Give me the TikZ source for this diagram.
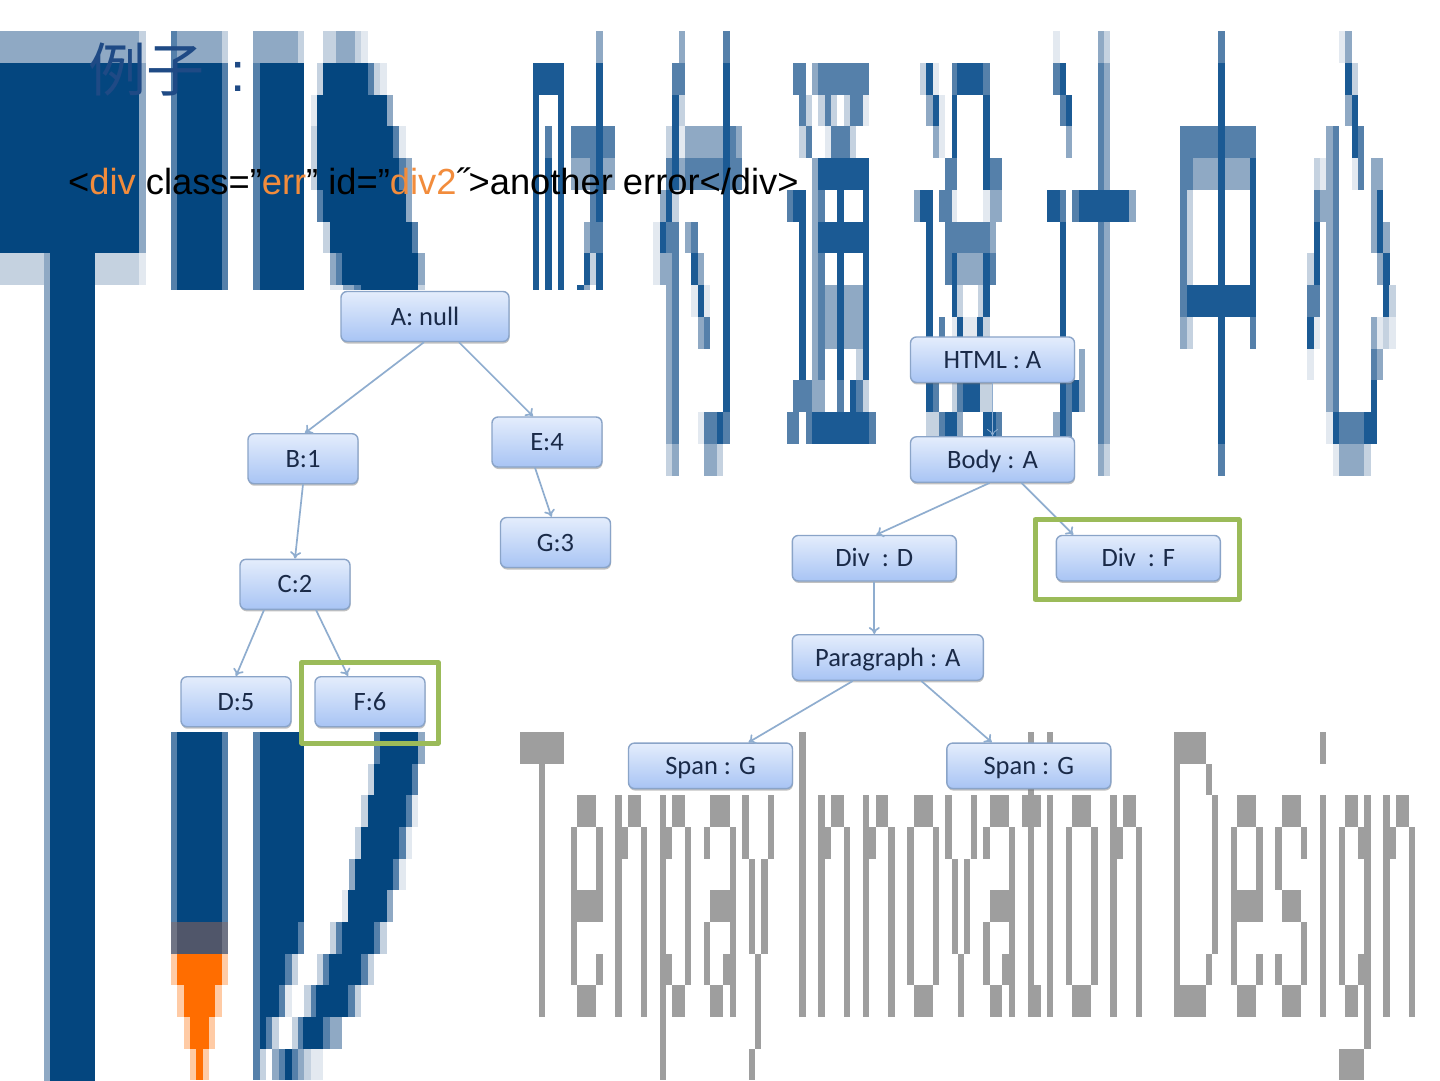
\documentclass[tikz,border=0pt]{standalone}
\usepackage{fontspec}
\setmainfont{Liberation Sans}
\newfontfamily\lblfont{Carlito}
\newfontfamily\cjkfont{Noto Sans CJK SC}
\usetikzlibrary{arrows.meta,shadows}
\definecolor{N}{HTML}{04467F}
\definecolor{D}{HTML}{1B5A94}
\definecolor{M}{HTML}{5580AA}
\definecolor{L}{HTML}{8FA9C4}
\definecolor{P}{HTML}{C5D2E0}
\definecolor{V}{HTML}{E3E9F0}
\definecolor{G}{HTML}{9E9E9E}
\definecolor{K}{HTML}{50566A}
\definecolor{J}{HTML}{6F7485}
\definecolor{O}{HTML}{FF6D00}
\definecolor{Q}{HTML}{FFCBA5}
\definecolor{orangetxt}{HTML}{F28C3C}
\definecolor{boxgreen}{HTML}{9BBB59}
\definecolor{boxedge}{HTML}{8AA4C8}
\definecolor{boxtop}{HTML}{E4EDFC}
\definecolor{boxbot}{HTML}{A8C4F4}
\definecolor{linkblue}{HTML}{8FADCF}
\definecolor{lbltxt}{HTML}{1A2A48}
\definecolor{titletxt}{HTML}{1F4A85}
\def\ox{0}
\def\yb{31}
\def\ys{31.75}
\newcommand\Rw[3]{\foreach \cc/\xa/\xb in {#3}{\fill[fill=\cc] ({\ox+\xa/3},{\yb+\ys*#1}) rectangle ({\ox+\xb/3+0.15},{\yb+\ys*#2+0.15});}}
\tikzset{
  treebox/.style={draw=boxedge,line width=1.4pt,rounded corners=6pt,top color=boxtop,bottom color=boxbot,
    drop shadow={shadow xshift=0.5pt,shadow yshift=-2pt,opacity=.4,fill=black!60},
    font=\lblfont\fontsize{26.5}{26.5}\selectfont,text=lbltxt,inner sep=0pt,anchor=center,text height=17pt,text depth=0pt},
  link/.style={draw=linkblue,line width=1.7pt,-{To[length=7pt,width=11pt]}},
  greenbox/.style={draw=boxgreen,line width=5pt,line join=round,fill=none,inner sep=0pt},
}
\begin{document}
\begin{tikzpicture}[x=1pt,y=-1pt]
\useasboundingbox (0,0) rectangle (1440,1080);
\fill[white] (0,0) rectangle (1440,1080);
% ---------- logo, top part
\def\ox{0}
\Rw{0}{1}{L/0/417,P/417/438,L/513/666,M/513/530,P/666/684,L/780/893,L/759/780,P/893/912,P/968/990,L/1007/1065,P/990/1007,P/1065/1083,V/1083/1104}
\Rw{1}{7}{N/0/417,L/417/438,M/513/530,N/530/666,M/666/684,M/759/780,N/780/912}
\Rw{7}{8}{P/0/132,L/132/150,P/285/417,V/417/438}
\Rw{7}{35}{L/132/150,N/150/285}
\Rw{7}{8.15}{M/513/530,N/530/666,M/666/684,M/759/780,N/780/912}
\Rw{1}{2}{P/950/968,N/968/1104,M/1104/1122,P/1122/1140,V/1140/1160}
\Rw{2}{3}{V/933/950,N/950/1160,L/1160/1178}
\Rw{3}{4}{P/933/950,N/950/1178,M/1178/1197,V/1197/1218}
\Rw{4}{5}{P/933/950,N/950/1197,M/1197/1218,L/1218/1235}
\Rw{5}{6}{M/950/968,N/968/1218,L/1218/1235}
\Rw{6}{7}{P/968/990,N/990/1235,M/1235/1254}
\Rw{7}{8}{L/990/1007,M/1007/1025,N/1025/1254,L/1254/1274}
\Rw{8}{8.15}{V/990/1030,L/1030/1063,M/1063/1083,N/1083/1254,P/1254/1274}
% ---------- upper letters, left half
\def\ox{520}
% glyph 1
\Rw{0}{1}{L/228/248}
\Rw{1}{2}{D/39/132,D/228/248}
\Rw{2}{8.15}{D/39/57,D/114/132,D/228/248}
\Rw{3}{4}{M/76/95,M/153/228,M/248/285}
\Rw{4}{8.15}{D/76/95}
\Rw{4}{5}{L/153/210,M/210/228,L/248/285}
\Rw{5}{6}{M/210/228}
\Rw{6}{7}{L/192/210,M/210/248}
\Rw{7}{8}{D/192/210,P/210/228}
\Rw{8}{8.15}{D/170/192,L/192/210}
% glyph 2
\Rw{0}{1}{L/477/494,M/610/630}
\Rw{1}{2}{M/457/494}
\Rw{1}{12}{D/610/630}
\Rw{2}{3}{D/457/477,P/477/494}
\Rw{3}{4}{P/438/457,D/457/477,V/477/494,L/494/610,M/630/647,L/647/665}
\Rw{4}{5}{M/438/457,D/457/477,L/477/494,M/494/610,M/630/665}
\Rw{5}{6}{L/420/438,D/438/457,P/457/477}
\Rw{6}{7}{V/400/420,D/420/438,M/438/477,L/494/514,M/514/533}
\Rw{7}{8}{V/400/420,L/420/457,M/457/477,D/514/533,L/533/552}
\Rw{8}{9}{L/438/457,M/457/477,V/514/533,D/533/552,V/552/570}
\Rw{9}{10}{L/438/457,M/457/477,L/533/552,M/552/570}
\Rw{10}{12}{L/438/457,M/457/477}
\Rw{12}{13}{L/438/457,M/457/477,V/533/552,M/552/590,D/590/610,M/610/630}
\Rw{13}{14}{P/438/457,L/457/477,L/552/590,P/590/608}
% glyph 3
\Rw{1}{2}{M/819/857,L/876/893,M/893/1047}
\Rw{2}{3}{M/838/857,P/857/876,P/893/915,M/915/933,P/933/952,P/972/990,M/990/1030,V/1030/1047}
\Rw{3}{4}{P/838/857,M/857/876,V/915/933,M/933/990,P/990/1007}
\Rw{4}{5}{L/876/893,D/893/1047}
\Rw{5}{6}{M/800/819,D/819/857,L/876/893,M/893/915,D/950/972,D/1030/1047}
\Rw{6}{7}{D/838/857,L/876/893,D/893/1047}
\Rw{7}{8}{D/838/857,L/876/893,M/893/915,D/950/972,D/1030/1047}
\Rw{8}{10}{D/838/857,L/876/893,M/893/915,L/915/950,D/950/972,L/972/1030,D/1030/1047}
\Rw{10}{11}{D/838/857,L/876/893,M/893/915,D/950/972,P/1007/1030,D/1030/1047}
\Rw{11}{12}{M/819/876,L/876/915,M/950/972,D/990/1007,M/1007/1030,P/1030/1047}
\Rw{12}{13}{M/800/838,M/857/876,D/876/1047,M/1047/1067}
% glyph 4
\Rw{1}{2}{P/1200/1218,D/1218/1238,V/1238/1257,M/1295/1312,D/1312/1388,M/1388/1410}
\Rw{2}{3}{L/1218/1238,D/1238/1257,V/1257/1275,D/1295/1312,D/1388/1410}
\Rw{3}{4}{L/1238/1257,V/1257/1275,D/1295/1312,D/1388/1410}
\Rw{4}{5}{M/1275/1312,D/1388/1410,M/1410/1446}
\Rw{5}{6}{L/1182/1200,D/1200/1238,M/1257/1295,V/1295/1312,V/1388/1410,L/1410/1446}
\Rw{6}{7}{D/1218/1238,M/1275/1410,L/1410/1428}
\Rw{7}{8}{D/1218/1238,M/1275/1295,D/1295/1312,L/1312/1388,D/1388/1410,M/1410/1428}
\Rw{8}{9}{D/1218/1238,D/1295/1312,P/1312/1330,P/1375/1388,D/1388/1410}
\Rw{9}{11}{D/1218/1238,M/1257/1275,V/1295/1312,D/1312/1330,V/1330/1370,D/1370/1388,P/1388/1410}
\Rw{11}{12}{D/1218/1238,M/1238/1257,P/1295/1312,M/1312/1330,D/1330/1380,P/1380/1418}
\Rw{12}{13}{P/1218/1257,M/1257/1275,D/1275/1312,L/1312/1330,D/1388/1428,M/1428/1446}
% ---------- upper letters, right half
\def\ox{980}
% glyph 5
\Rw{0}{1}{V/220/240,L/354/372,P/372/390}
\Rw{1}{13}{M/354/372,L/372/390}
\Rw{1}{2}{M/220/240,D/240/258}
\Rw{2}{3}{M/240/258,D/258/276}
\Rw{3}{4}{L/258/276}
\Rw{5}{6}{D/201/240,M/240/258,M/276/297,D/297/447,L/447/467}
\Rw{6}{11}{D/240/258}
\Rw{10}{11}{L/297/315}
\Rw{11}{12}{D/240/258,M/258/276,D/276/297,L/297/315}
\Rw{12}{13}{L/220/240,D/240/258,M/258/276}
\Rw{13}{14}{L/354/372,P/372/390}
% glyph 6
\Rw{3}{4}{M/600/714,M/735/827}
\Rw{4}{5}{M/600/638,L/638/714,L/735/810,D/810/827}
\Rw{5}{8}{M/600/620,P/620/638,D/810/827}
\Rw{8}{9}{M/600/620,D/620/827}
\Rw{9}{10}{L/600/620,P/620/638,M/810/827}
\Rw{0}{1}{M/714/735}
\Rw{1}{13}{D/714/735}
\Rw{13}{14}{M/714/735}
% glyph 7
\Rw{0}{1}{V/1078/1095,L/1095/1115}
\Rw{1}{2}{D/1095/1115,P/1115/1133}
\Rw{2}{3}{L/1095/1115,D/1115/1133}
\Rw{3}{12}{L/1038/1058,M/1058/1076}
\Rw{3}{4}{D/1115/1133,M/1133/1152}
\Rw{4}{5}{P/1002/1020,V/1020/1038,V/1115/1133,M/1133/1152,L/1172/1208}
\Rw{5}{6}{M/1002/1020,L/1020/1038,L/1172/1190,D/1190/1208}
\Rw{6}{7}{D/1002/1020,L/1172/1190,D/1190/1208,L/1208/1228}
\Rw{7}{8}{P/982/1002,D/1002/1020,L/1190/1208,D/1208/1228}
\Rw{8}{9}{M/982/1020,D/1208/1228,P/1228/1247}
\Rw{9}{10}{D/982/1002,V/1002/1020,L/1172/1190,V/1190/1208,P/1208/1228,V/1228/1247}
\Rw{10}{11}{V/982/1002,M/1172/1190,L/1190/1208}
\Rw{11}{12}{D/1172/1190}
\Rw{12}{13}{V/1038/1058,D/1058/1076,M/1076/1152,D/1152/1190}
\Rw{13}{14}{V/1058/1076,L/1076/1152,P/1152/1172}
% ---------- logo, bottom part
\def\yb{35.7}
\def\ys{31.65}
\def\ox{0}
\Rw{22}{28}{M/513/530,N/530/666,M/666/684}
\Rw{28}{29}{J/513/530,K/530/666,J/666/684}
\Rw{29}{30}{Q/513/530,O/530/666,Q/666/684}
\Rw{30}{31}{Q/530/552,O/552/645,Q/645/666}
\Rw{31}{32}{Q/552/570,O/570/628,Q/628/645}
\Rw{32}{33}{Q/570/588,O/588/610,Q/610/627}
\Rw{22}{28}{M/759/780,N/780/912}
\Rw{28}{29}{M/759/780,N/780/893,M/893/912}
\Rw{29}{30}{M/759/780,N/780/855,M/855/876,P/876/893}
\Rw{30}{31}{M/759/780,N/780/838,M/838/855,V/855/876}
\Rw{31}{32}{M/759/780,N/780/798,M/798/815,P/815/838}
\Rw{32}{33}{M/759/780,P/780/798,L/815/838,M/838/855,N/855/876,M/876/893,L/893/912,P/912/932,V/932/968}
\Rw{22}{23}{M/1122/1140,N/1140/1254,L/1254/1274}
\Rw{23}{24}{P/1104/1122,N/1122/1235,M/1235/1254}
\Rw{24}{25}{P/1083/1104,N/1104/1218,M/1218/1235,V/1235/1254}
\Rw{25}{26}{P/1065/1083,N/1083/1197,M/1197/1218,V/1218/1235}
\Rw{26}{27}{L/1048/1065,N/1065/1178,M/1178/1197,V/1197/1218}
\Rw{27}{28}{V/1025/1045,N/1045/1162,L/1162/1178}
\Rw{28}{29}{P/990/1007,M/1007/1025,N/1025/1122,M/1122/1140,P/1140/1160}
\Rw{29}{30}{P/952/968,M/968/987,N/987/1083,M/1083/1104,P/1104/1122}
\Rw{30}{31}{P/912/932,M/932/948,N/948/1045,M/1045/1065,P/1065/1083}
\Rw{31}{32}{P/876/893,M/893/910,N/910/968,M/968/990,L/990/1025}
% ---------- grey lettering
\def\ox{510}
\Rw{22}{23}{G/30/162}
\Rw{23}{31}{G/87/105}
% e
\Rw{24}{25}{G/201/258}\Rw{25}{27}{G/183/201,G/258/279}\Rw{27}{28}{G/183/279}\Rw{28}{29}{G/183/201}\Rw{29}{30}{G/183/201,G/258/279}\Rw{30}{31}{G/201/258}
% n
\Rw{24}{25}{G/315/336,G/354/393}\Rw{25}{26}{G/315/354,G/393/411}\Rw{26}{31}{G/315/336,G/393/411}
% p
\Rw{24}{25}{G/450/468,G/486/525}\Rw{25}{26}{G/450/486,G/525/543}\Rw{26}{29}{G/450/468,G/525/543}\Rw{29}{30}{G/450/486,G/525/543}\Rw{30}{31}{G/450/468,G/486/525}\Rw{31}{33}{G/450/468}
% a
\Rw{24}{25}{G/600/660}\Rw{25}{26}{G/583/600,G/660/678}\Rw{26}{27}{G/660/678}\Rw{27}{28}{G/600/678}\Rw{28}{29}{G/583/600,G/660/678}\Rw{29}{30}{G/583/600,G/640/678}\Rw{30}{31}{G/600/640,G/660/678}
% y
\Rw{24}{26}{G/696/717,G/774/792}\Rw{26}{29}{G/717/735,G/753/774}\Rw{29}{32}{G/735/753}\Rw{32}{33}{G/717/735}
% I
\Rw{22}{31}{G/867/888}
% n
\Rw{24}{25}{G/924/945,G/963/1002}\Rw{25}{26}{G/924/963,G/1002/1020}\Rw{26}{31}{G/924/945,G/1002/1020}
% n
\Rw{24}{25}{G/1059/1077,G/1098/1135}\Rw{25}{26}{G/1059/1098,G/1135/1155}\Rw{26}{31}{G/1059/1077,G/1135/1155}
% o
\Rw{24}{25}{G/1212/1269}\Rw{25}{30}{G/1191/1212,G/1269/1287}\Rw{30}{31}{G/1212/1269}
% v
\Rw{24}{26}{G/1305/1326,G/1383/1401}\Rw{26}{29}{G/1326/1344,G/1362/1380}\Rw{29}{31}{G/1344/1362}
\def\ox{970}
% a
\Rw{24}{25}{G/60/117}\Rw{25}{26}{G/39/60,G/117/135}\Rw{26}{27}{G/117/135}\Rw{27}{28}{G/60/135}\Rw{28}{29}{G/39/60,G/117/135}\Rw{29}{30}{G/39/60,G/96/135}\Rw{30}{31}{G/60/96,G/117/135}
% t
\Rw{22}{24}{G/174/192}\Rw{24}{25}{G/156/213}\Rw{25}{30}{G/174/192}\Rw{30}{31}{G/174/213}
% i
\Rw{22}{23}{G/231/249}\Rw{24}{31}{G/231/249}
% o
\Rw{24}{25}{G/306/363}\Rw{25}{30}{G/288/306,G/363/384}\Rw{30}{31}{G/306/363}
% n
\Rw{24}{25}{G/420/441,G/459/498}\Rw{25}{26}{G/420/459,G/498/516}\Rw{26}{31}{G/420/441,G/498/516}
% D
\Rw{22}{23}{G/612/708}\Rw{23}{24}{G/612/630,G/708/726}\Rw{24}{29}{G/612/630,G/726/744}\Rw{29}{30}{G/612/630,G/708/726}\Rw{30}{31}{G/612/708}
% e
\Rw{24}{25}{G/801/858}\Rw{25}{27}{G/783/801,G/858/879}\Rw{27}{28}{G/783/879}\Rw{28}{29}{G/783/801}\Rw{29}{30}{G/783/801,G/858/879}\Rw{30}{31}{G/801/858}
% s
\Rw{24}{25}{G/936/993}\Rw{25}{26}{G/915/936,G/993/1011}\Rw{26}{27}{G/915/936}\Rw{27}{28}{G/936/993}\Rw{28}{29}{G/993/1011}\Rw{29}{30}{G/915/936,G/993/1011}\Rw{30}{31}{G/936/993}
% i
\Rw{22}{23}{G/1050/1068}\Rw{24}{31}{G/1050/1068}
% g
\Rw{24}{25}{G/1125/1164,G/1182/1203}\Rw{25}{26}{G/1107/1125,G/1164/1203}\Rw{26}{29}{G/1107/1125,G/1182/1203}\Rw{29}{30}{G/1107/1125,G/1164/1203}\Rw{30}{31}{G/1125/1164,G/1182/1203}\Rw{31}{32}{G/1182/1203}\Rw{32}{33}{G/1107/1182}
% n
\Rw{24}{25}{G/1239/1260,G/1278/1317}\Rw{25}{26}{G/1239/1278,G/1317/1335}\Rw{26}{31}{G/1239/1260,G/1317/1335}
% ---------- texts
\node[anchor=base west,inner sep=0pt,text=titletxt,font=\fontsize{55}{55}\selectfont] (title) at (88,91) {{\cjkfont\fontsize{58}{58}\selectfont 例子}\hspace{26pt}:};
\node[anchor=base west,inner sep=0pt,text=black,font=\fontsize{36.3}{36.3}\selectfont] (code) at (68,194.5)
  {<\textcolor{orangetxt}{div} class=”\textcolor{orangetxt}{err}” id=”\textcolor{orangetxt}{div2}˝>another error</div>};
% ---------- left tree
\node[treebox,minimum width=168pt,minimum height=50pt] (A) at (425,316.5) {A:\ null};
\node[treebox,minimum width=110pt,minimum height=50pt] (B) at (303,458.7) {B:1};
\node[treebox,minimum width=110pt,minimum height=50pt] (E) at (547,442) {E:4};
\node[treebox,minimum width=110pt,minimum height=50pt] (Gn) at (555.5,542.5) {G:3};
\node[treebox,minimum width=110pt,minimum height=50pt] (Cn) at (295,584.3) {C:2};
\node[treebox,minimum width=110pt,minimum height=50pt] (Dn) at (236,701.7) {D:5};
\node[treebox,minimum width=110pt,minimum height=50pt] (Fn) at (370,701.7) {F:6};
\draw[link] ([xshift=-1pt]A.south) -- ([xshift=2pt]B.north);
\draw[link] ([xshift=34pt]A.south) -- ([xshift=-14pt]E.north);
\draw[link] (B.south) -- (Cn.north);
\draw[link] ([xshift=-12pt]E.south) -- ([xshift=-4pt]Gn.north);
\draw[link] ([xshift=-31pt]Cn.south) -- (Dn.north);
\draw[link] ([xshift=21pt]Cn.south) -- ([xshift=-22pt]Fn.north);
\node[greenbox,minimum width=136.5pt,minimum height=80.5pt] (gl) at (370,702.9) {};
% ---------- right tree
\node[treebox,minimum width=164pt,minimum height=45.5pt] (html) at (992.5,359.7) {HTML : A};
\node[treebox,minimum width=164pt,minimum height=45.5pt] (body) at (992.5,459.5) {Body : A};
\node[treebox,minimum width=164pt,minimum height=45.5pt] (divd) at (874.3,558.2) {Div\ \ : D};
\node[treebox,minimum width=164pt,minimum height=45.5pt] (divf) at (1138.3,558.2) {Div\ \ : F};
\node[treebox,minimum width=191pt,minimum height=45.5pt] (para) at (887.8,657.5) {Paragraph : A};
\node[treebox,minimum width=164pt,minimum height=45.5pt] (span1) at (710.5,765.8) {Span : G};
\node[treebox,minimum width=164pt,minimum height=45.5pt] (span2) at (1028.8,765.8) {Span : G};
\draw[link,line width=0.8pt] (html.south) -- (body.north);
\draw[link] ([xshift=-3pt]body.south) -- ([xshift=2pt]divd.north);
\draw[link] ([xshift=29pt]body.south) -- ([xshift=-65pt]divf.north);
\draw[link] (divd.south) -- ([xshift=-13.5pt]para.north);
\draw[link] ([xshift=-35pt]para.south) -- ([xshift=38pt]span1.north);
\draw[link] ([xshift=33.5pt]para.south) -- ([xshift=-37pt]span2.north);
\node[greenbox,minimum width=204pt,minimum height=79.5pt] (gr) at (1137,559.5) {};
\end{tikzpicture}
\end{document}
